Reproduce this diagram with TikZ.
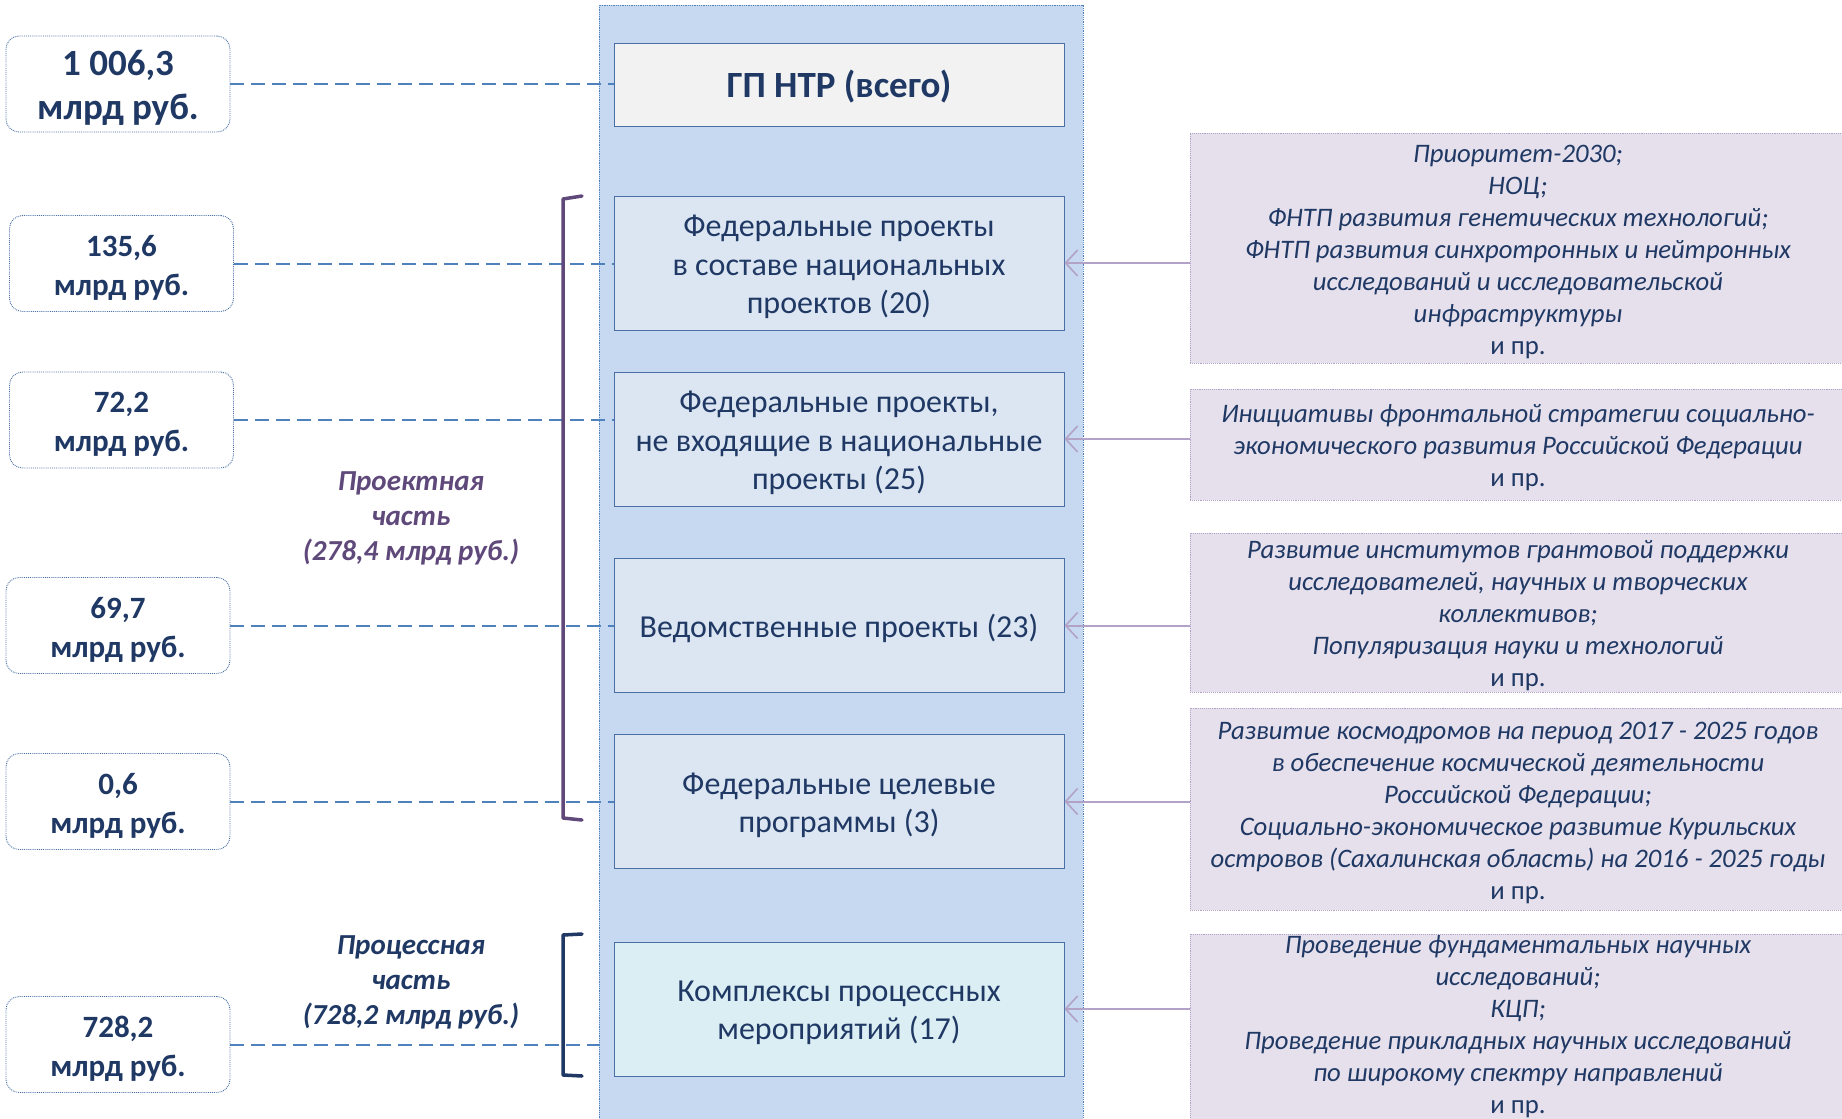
\documentclass[tikz,border=0pt]{standalone}
\usepackage{fontspec}
\setmainfont{Carlito}
\usetikzlibrary{arrows.meta}
\definecolor{colbg}{HTML}{C6D9F0}
\definecolor{colborder}{HTML}{4F81BD}
\definecolor{mainfill}{HTML}{DCE6F2}
\definecolor{mainborder}{HTML}{4A6FA5}
\definecolor{topfill}{HTML}{F2F2F2}
\definecolor{lastfill}{HTML}{DBEEF4}
\definecolor{navy}{HTML}{1F3864}
\definecolor{dashblue}{HTML}{4F81BD}
\definecolor{purplebr}{HTML}{5F497A}
\definecolor{rightfill}{HTML}{E5E0EC}
\definecolor{rightborder}{HTML}{B3A2C7}
\definecolor{arrowcol}{HTML}{B3A2C7}
\begin{document}
\begin{tikzpicture}[x=1pt,y=-1pt,
  colbox/.style={draw=colborder,densely dotted,line width=0.8pt,fill=colbg,minimum width=484pt,minimum height=1120pt,inner sep=0pt},
  mainbox/.style={draw=mainborder,line width=1pt,fill=mainfill,minimum width=450pt,minimum height=134pt,inner sep=0pt},
  maintxt/.style={align=center,text=navy,font=\fontsize{32}{38.5}\selectfont,inner sep=0pt,yshift=-4pt},
  valbox/.style={draw=mainborder,densely dotted,line width=0.9pt,rounded corners=13pt,fill=white,minimum width=224pt,minimum height=96pt,inner sep=0pt},
  valtxt/.style={align=center,text=navy,font=\bfseries\fontsize{31}{39}\selectfont,inner sep=0pt,yshift=-4pt},
  rightbox/.style={draw=rightborder,densely dotted,line width=0.9pt,fill=rightfill,minimum width=656pt,inner sep=0pt},
  righttxt/.style={align=center,text=navy,font=\itshape\fontsize{26.7}{32}\selectfont,inner sep=0pt,yshift=-3.5pt},
  dashline/.style={draw=dashblue,line width=2pt,dash pattern=on 14pt off 7pt},
  arrowline/.style={draw=arrowcol,line width=2pt,{Straight Barb[length=12pt,width=26pt,line width=1.6pt]}-},
  brace/.style={line width=3.5pt,line cap=round,line join=round},
  partlabel/.style={align=center,font=\bfseries\itshape\fontsize{29}{35}\selectfont}
]
\useasboundingbox (0,0) rectangle (1842,1119);
\clip (0,0) rectangle (1842,1119);

% central column
\node[colbox] (col) at (841,565) {};

% main boxes
\node[mainbox,fill=topfill,minimum height=83pt] (M1) at (839,84.5) {};
\node[maintxt,font=\bfseries\fontsize{37}{44}\selectfont,yshift=2pt] (M1t) at (M1) {ГП НТР (всего)};
\node[mainbox] (M2) at (839,263) {};
\node[maintxt] (M2t) at (M2) {Федеральные проекты\\в составе национальных\\проектов (20)};
\node[mainbox] (M3) at (839,439) {};
\node[maintxt] (M3t) at (M3) {Федеральные проекты,\\не входящие в национальные\\проекты (25)};
\node[mainbox] (M4) at (839,625.5) {};
\node[maintxt,yshift=1pt] (M4t) at (M4) {Ведомственные проекты (23)};
\node[mainbox] (M5) at (839,801.5) {};
\node[maintxt] (M5t) at (M5) {Федеральные целевые\\программы (3)};
\node[mainbox,fill=lastfill] (M6) at (839,1009) {};
\node[maintxt] (M6t) at (M6) {Комплексы процессных\\мероприятий (17)};

% left value boxes
\node[valbox] (L1) at (118,84) {};
\node[valtxt,font=\bfseries\fontsize{37}{44}\selectfont] (L1t) at (L1) {1 006,3\\млрд руб.};
\node[valbox] (L2) at (121.5,263.5) {};
\node[valtxt] (L2t) at (L2) {135,6\\млрд руб.};
\node[valbox] (L3) at (121.5,420) {};
\node[valtxt] (L3t) at (L3) {72,2\\млрд руб.};
\node[valbox] (L4) at (118,625.5) {};
\node[valtxt] (L4t) at (L4) {69,7\\млрд руб.};
\node[valbox] (L5) at (118,801.5) {};
\node[valtxt] (L5t) at (L5) {0,6\\млрд руб.};
\node[valbox] (L6) at (118,1044.5) {};
\node[valtxt] (L6t) at (L6) {728,2\\млрд руб.};

% dashed connectors
\draw[dashline] (L1.east) -- (L1.east -| M1.west);
\draw[dashline] (L2.east) -- (L2.east -| M2.west);
\draw[dashline] (L3.east) -- (L3.east -| M3.west);
\draw[dashline] (L4.east) -- (L4.east -| M4.west);
\draw[dashline] (L5.east) -- (L5.east -| M5.west);
\draw[dashline] (L6.east) -- (L6.east -| col.west);

% brackets
\coordinate (b1t) at (582,196);
\coordinate (b1b) at (582,820);
\draw[brace,draw=purplebr] (b1t) -- (563,199) -- (563,818) -- (b1b);
\coordinate (b2t) at (582,934);
\coordinate (b2b) at (582,1076);
\draw[brace,draw=navy] (b2t) -- (563,935) -- (563,1075) -- (b2b);

% part labels
\node[partlabel,text=purplebr] (P1) at (411,518) {Проектная\\часть\\(278,4 млрд руб.)};
\node[partlabel,text=navy] (P2) at (411,982) {Процессная\\часть\\(728,2 млрд руб.)};

% right boxes
\node[rightbox,minimum height=230pt] (R1) at (1518,248) {};
\node[righttxt] (R1t) at (R1) {Приоритет-2030;\\НОЦ;\\ФНТП развития генетических технологий;\\ФНТП развития синхротронных и нейтронных\\исследований и исследовательской\\инфраструктуры\\\upshape и пр.};
\node[rightbox,minimum height=111pt] (R2) at (1518,444.5) {};
\node[righttxt] (R2t) at (R2) {Инициативы фронтальной стратегии социально-\\экономического развития Российской Федерации\\\upshape и пр.};
\node[rightbox,minimum height=159pt] (R3) at (1518,612.5) {};
\node[righttxt] (R3t) at (R3) {Развитие институтов грантовой поддержки\\исследователей, научных и творческих\\коллективов;\\Популяризация науки и технологий\\\upshape и пр.};
\node[rightbox,minimum height=202pt] (R4) at (1518,809) {};
\node[righttxt] (R4t) at (R4) {Развитие космодромов на период 2017 - 2025 годов\\в обеспечение космической деятельности\\Российской Федерации;\\Социально-экономическое развитие Курильских\\островов (Сахалинская область) на 2016 - 2025 годы\\\upshape и пр.};
\node[rightbox,minimum height=191pt,anchor=north] (R5) at (1518,934) {};
\node[righttxt] (R5t) at (1518,1023.5) {Проведение фундаментальных научных\\исследований;\\КЦП;\\Проведение прикладных научных исследований\\по широкому спектру направлений\\\upshape и пр.};

% arrows
\draw[arrowline] (M2.east) -- (M2.east -| R1.west);
\draw[arrowline] (M3.east) -- (M3.east -| R2.west);
\draw[arrowline] (M4.east) -- (M4.east -| R3.west);
\draw[arrowline] (M5.east) -- (M5.east -| R4.west);
\draw[arrowline] (M6.east) -- (M6.east -| R5.west);
\end{tikzpicture}
\end{document}
